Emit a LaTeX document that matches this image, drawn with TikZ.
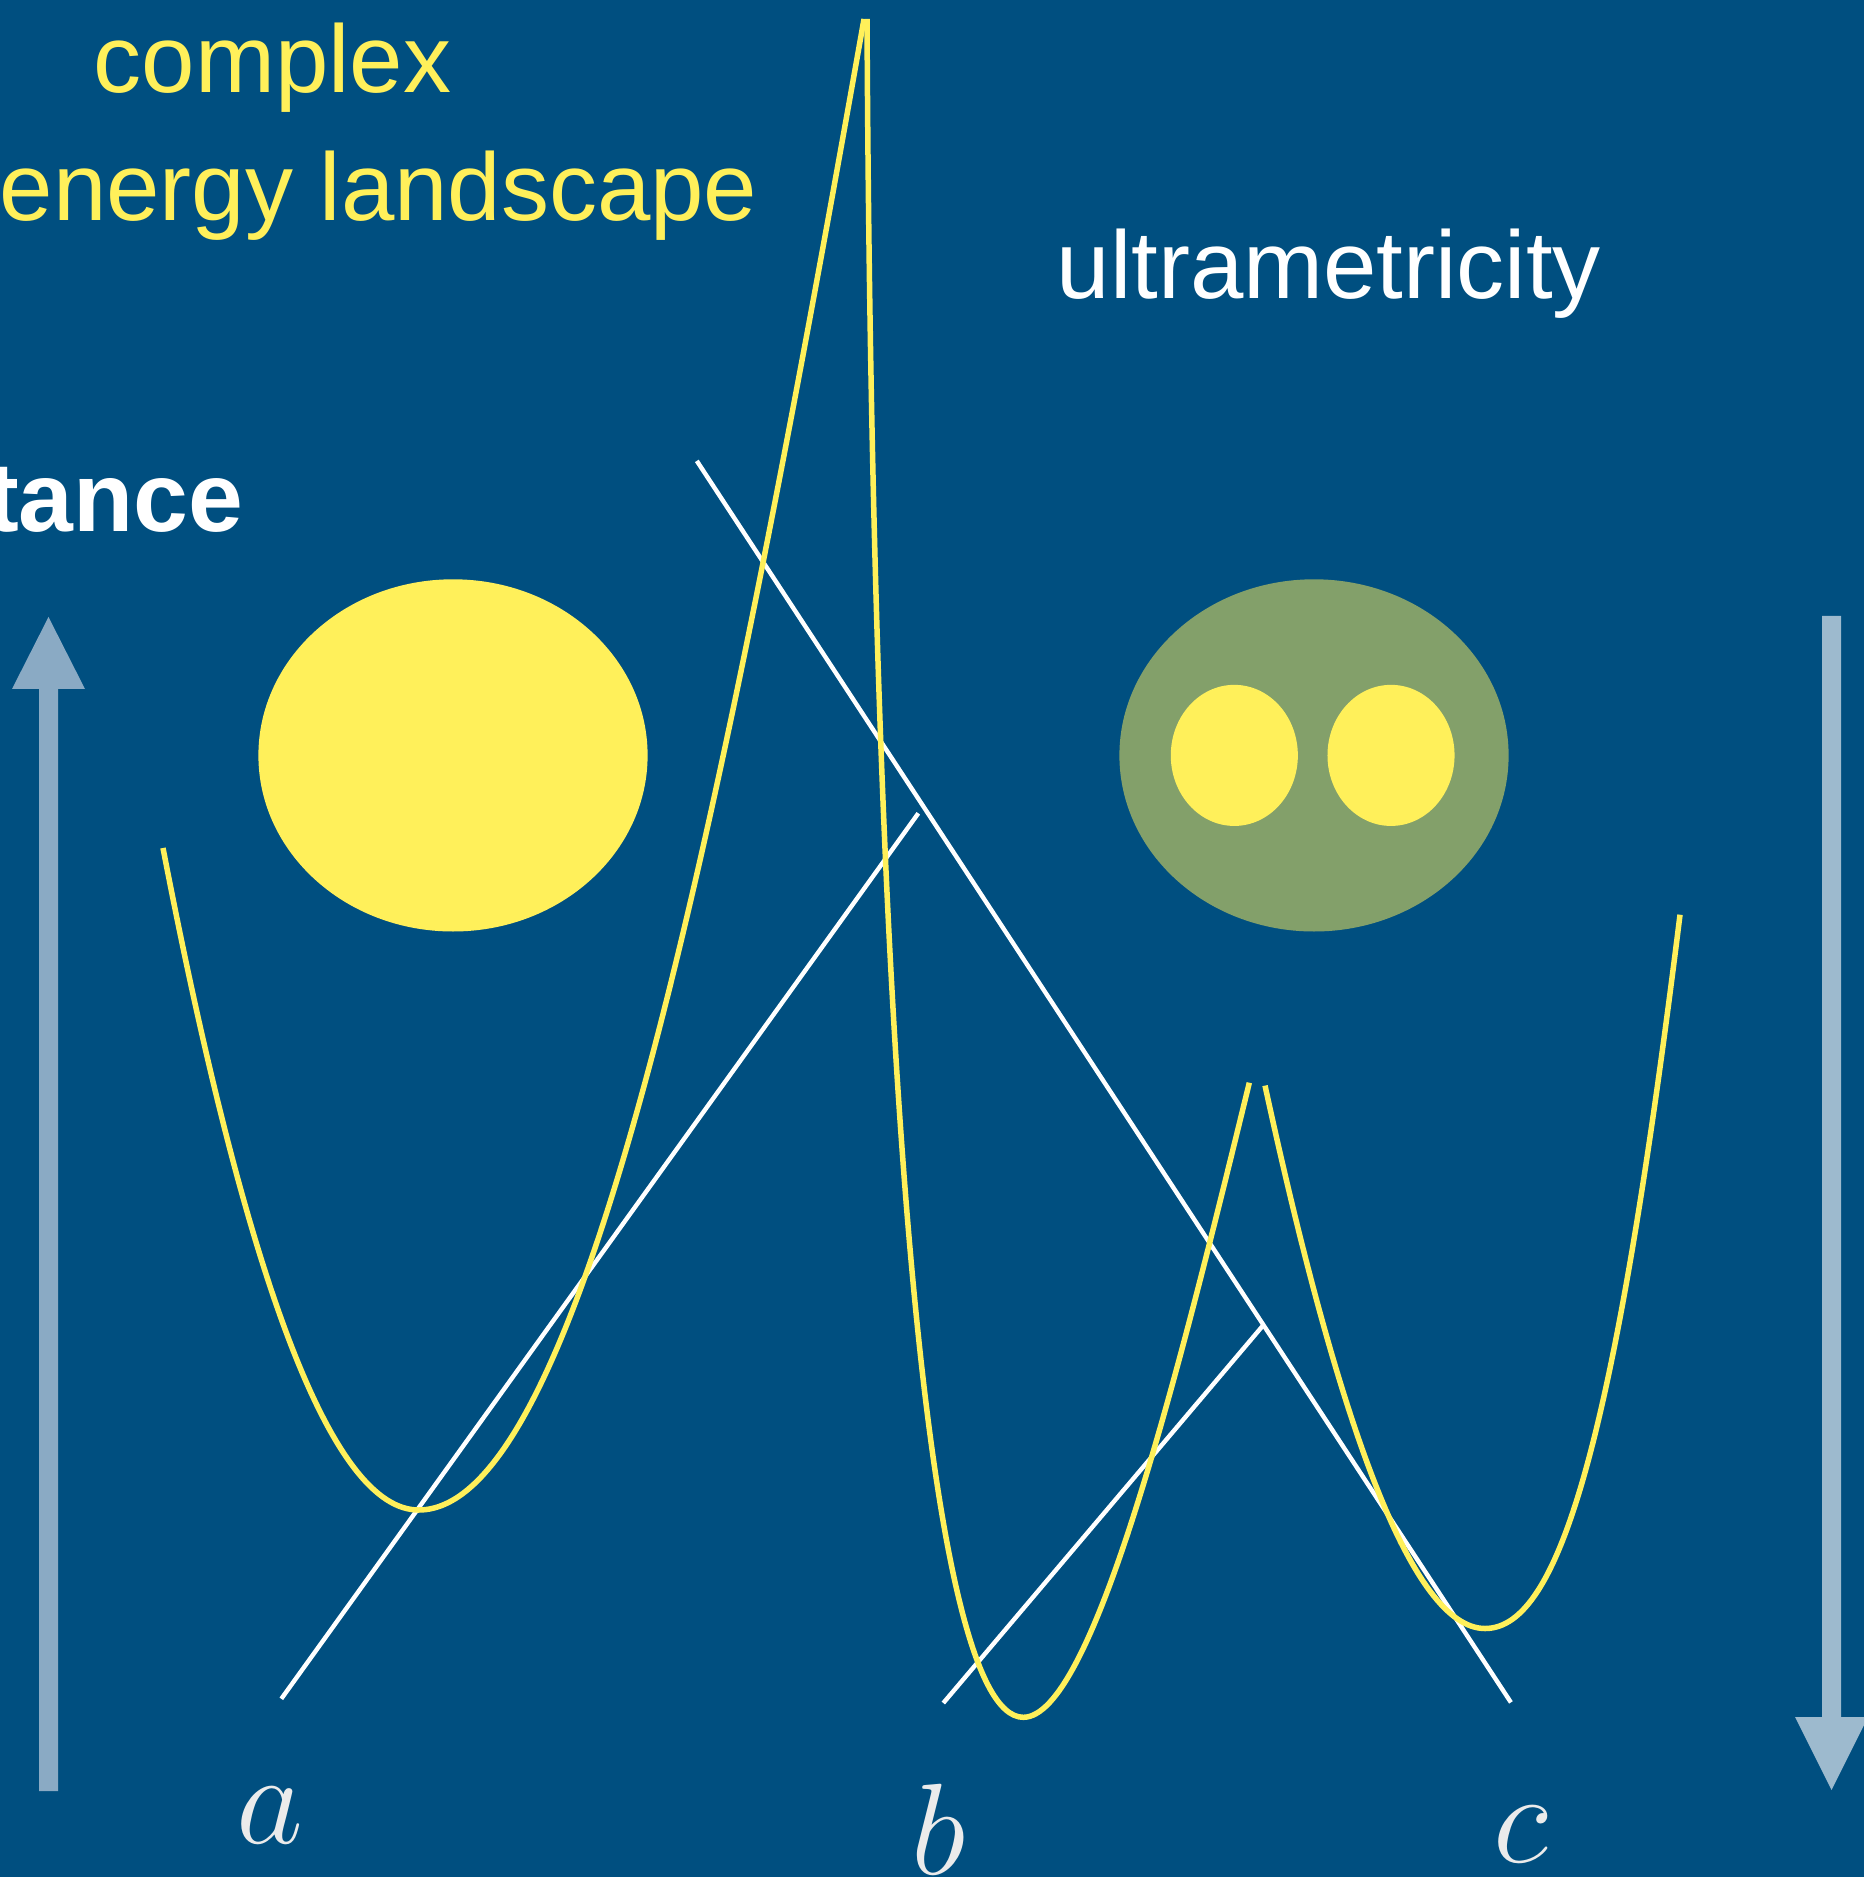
\documentclass[tikz,border=0pt]{standalone}
\usepackage{fix-cm}
\usepackage{fontspec}
\setmainfont{Liberation Sans}
\usepackage{xcolor}
\usetikzlibrary{shapes.geometric, calc}
\definecolor{slate}{HTML}{004F80}
\definecolor{lemon}{HTML}{FFF05A}
\definecolor{moss}{HTML}{83A06A}
\definecolor{mist}{HTML}{8AAAC4}
\definecolor{mistlight}{HTML}{9DBACE}
\definecolor{chalk}{HTML}{EBEBEB}
\tikzset{
  %% Energy curve
  landscape/.style={draw=lemon, line width=0.55mm},
  %% Tree branch
  branch/.style={draw=white, line width=0.44mm},
  %% Basin blob
  basin/.style={
    ellipse, fill=#1, inner sep=0pt,
    minimum width=3.89cm, minimum height=3.52cm
  },
  basin/.default=lemon,
  subbasin/.style={
    ellipse, fill=lemon, inner sep=0pt,
    minimum width=1.27cm, minimum height=1.41cm
  },
  %% Text
  caption/.style={
    text=#1, inner sep=0pt, anchor=base west,
    font=\fontsize{27.3}{30}\selectfont
  },
  caption/.default=lemon,
  leaflabel/.style={
    text=chalk, inner sep=0pt, anchor=base,
    font=\fontsize{37}{40}\selectfont
  },
}

\begin{document}
\begin{tikzpicture}[x=0.01cm, y=-0.01cm]
  %% Frame
  \useasboundingbox (0,0) rectangle (1864,1877);
  \clip (0,0) rectangle (1864,1877);
  \fill[slate] (0,0) rectangle (1864,1877);

  %% Captions
  \node[caption] (cplx) at (93,93) {complex};
  \node[caption] (land) at (-1,221) {energy landscape};
  \node[caption=white] (ultra) at (1056,299) {ultrametricity};
  \node[caption=white, anchor=base east,
        font=\fontsize{28}{30}\selectfont\bfseries]
       (dist) at (244,532) {tance};

  %% Distance arrows
  \fill[mist] (39,1791) -- (39,689) -- (12,689) -- (48.5,617)
    -- (85,689) -- (58,689) -- (58,1791) -- cycle;
  \fill[mistlight] (1822,616) -- (1822,1717) -- (1795,1717) -- (1831.5,1790)
    -- (1868,1717) -- (1841,1717) -- (1841,616) -- cycle;

  %% Basins
  \node[basin] (basinA) at (453,755.4) {};
  \node[basin=moss] (basinBC) at (1314,755.4) {};
  \node[subbasin] (basinB) at (1234.3,755.4) {};
  \node[subbasin] (basinC) at (1391,755.4) {};

  %% Tree
  \coordinate (leafa) at (281.3,1698.8);
  \coordinate (leafb) at (943.3,1703);
  \coordinate (leafc) at (1510.9,1702.4);
  \coordinate (root) at (696.8,460.9);
  \coordinate (armend) at (918.3,813.3);
  \coordinate (joinbc) at ($(root)!0.696!(leafc)$);
  \draw[branch] (leafa) -- (armend);
  \draw[branch] (root) -- (leafc);
  \draw[branch] (leafb) -- (joinbc);

  %% Landscape
  \draw[landscape] (163,848) .. controls (248.2,1289.3) and (333.4,1510) .. (418.6,1510)
    .. controls (578.6,1510) and (714,866.5) .. (864,19);
  \draw[landscape] (867,19) .. controls (872,1019) and (923.3,1717.3) .. (1023.3,1717.3)
    .. controls (1091.3,1717.3) and (1174.3,1390.2) .. (1249.3,1082.7);
  \draw[landscape] (1265,1085.6) .. controls (1338.3,1422.8) and (1411.7,1628.5) .. (1485,1628.5)
    .. controls (1560,1628.5) and (1615,1437.9) .. (1680,914.7);

  %% Leaf labels
  \node[leaflabel] (labela) at (270,1843) {$a$};
  \node[leaflabel] (labelb) at (939,1874) {$b$};
  \node[leaflabel] (labelc) at (1521,1862) {$c$};
\end{tikzpicture}
\end{document}
